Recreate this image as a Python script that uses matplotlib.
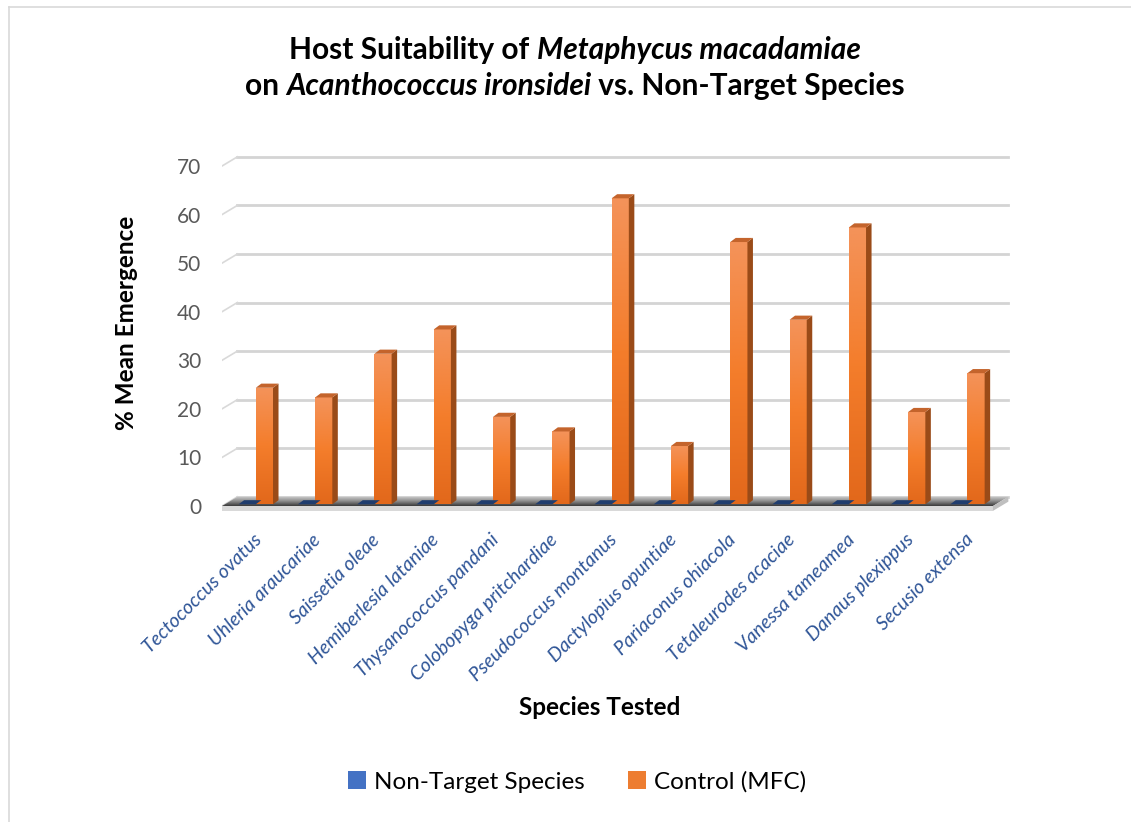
"""Host suitability of Metaphycus macadamiae: 3D-style clustered column chart."""

import matplotlib
matplotlib.use("Agg")
import matplotlib.pyplot as plt
import numpy as np
from matplotlib.patches import Polygon, Rectangle
from matplotlib.lines import Line2D

plt.rcParams["font.family"] = ["Lato", "DejaVu Sans"]

SPECIES = [
    "Tectococcus ovatus", "Uhleria araucariae", "Saissetia oleae",
    "Hemiberlesia lataniae", "Thysanococcus pandani", "Colobopyga pritchardiae",
    "Pseudococcus montanus", "Dactylopius opuntiae", "Pariaconus ohiacola",
    "Tetaleurodes acaciae", "Vanessa tameamea", "Danaus plexippus", "Secusio extensa",
]
NON_TARGET = [0, 0, 0, 0, 0, 0, 0, 0, 0, 0, 0, 0, 0]
CONTROL = [24, 22, 31, 36, 18, 15, 63, 12, 54, 38, 57, 19, 27]
Y_TICKS = [0, 10, 20, 30, 40, 50, 60, 70]

W, H = 1131, 822
DX, DY = 0.26, 1.9          # depth of the back wall (category / value units)
BDX, BDY = 0.093, 0.85      # depth of each bar
BASE = 0.35                 # bar front base height above front floor edge
BAR_W = 0.29

fig = plt.figure(figsize=(W / 100, H / 100), dpi=100)
ax = fig.add_axes([222 / W, 1 - 513.3 / H, 791.7 / W, 366.7 / H])
ax.set_xlim(-0.5, 12.85)
ax.set_ylim(-1.5, 74)
for s in ax.spines.values():
    s.set_visible(False)

n = len(SPECIES)
x = np.arange(n)

# back wall gridlines with their diagonal lead-ins
for v in Y_TICKS:
    ax.plot([-0.5 + DX, n - 0.5 + DX], [v + DY, v + DY], color="#d4d4d4", lw=2.0, zorder=1)
    ax.plot([-0.5, -0.5 + DX], [v, v + DY], color="#d9d9d9", lw=1.2, zorder=1)

# floor: top surface with gradient and a light front edge
floor_top = Polygon([(-0.5, 0), (n - 0.5, 0), (n - 0.5 + DX, DY), (-0.5 + DX, DY)],
                    closed=True, facecolor="none", edgecolor="none", zorder=2)
ax.add_patch(floor_top)
grad = np.linspace(0, 1, 64).reshape(-1, 1)
im = ax.imshow(grad, extent=(-0.5, n - 0.5 + DX, 0, DY), origin="lower",
               cmap=matplotlib.colors.LinearSegmentedColormap.from_list("fl", ["#3a3a3a", "#8c8c8c", "#d0d0d0"]),
               aspect="auto", zorder=2)
im.set_clip_path(floor_top)
ax.add_patch(Polygon([(-0.5, 0), (n - 0.5, 0), (n - 0.5, -1.0), (-0.5, -1.0)],
                     closed=True, facecolor="#d9d9d9", edgecolor="none", zorder=2))
ax.add_patch(Polygon([(n - 0.5, 0), (n - 0.5 + DX, DY), (n - 0.5 + DX, DY - 1.0), (n - 0.5, -1.0)],
                     closed=True, facecolor="#bfbfbf", edgecolor="none", zorder=2))

orange_cmap = matplotlib.colors.LinearSegmentedColormap.from_list(
    "or", ["#e2681b", "#f47d2b", "#f4935a"])


def draw_bar(xl, v, front, side, top, gradient=None):
    xr = xl + BAR_W
    if v > 0:
        face = Rectangle((xl, BASE), BAR_W, v, facecolor=front, edgecolor="none", zorder=4)
        ax.add_patch(face)
        if gradient is not None:
            g = ax.imshow(np.linspace(0, 1, 128).reshape(-1, 1), extent=(xl, xr, BASE, BASE + v),
                          origin="lower", cmap=gradient, aspect="auto", zorder=4)
            g.set_clip_path(face)
        ax.add_patch(Polygon([(xr, BASE), (xr + BDX, BASE + BDY), (xr + BDX, BASE + v + BDY), (xr, BASE + v)],
                             closed=True, facecolor=side, edgecolor="none", zorder=4))
    ax.add_patch(Polygon([(xl, BASE + v), (xr, BASE + v), (xr + BDX, BASE + v + BDY), (xl + BDX, BASE + v + BDY)],
                         closed=True, facecolor=top, edgecolor="none", zorder=5))


for i in range(n):
    draw_bar(x[i] - 0.22, NON_TARGET[i], "#3a64ad", "#25467f", "#203d6e")
    draw_bar(x[i] + 0.07, CONTROL[i], "#f07d2e", "#9a4b18", "#c4642c", orange_cmap)

ax.set_yticks(Y_TICKS)
ax.set_yticklabels([str(v) for v in Y_TICKS], fontsize=15, color="#595959")
ax.tick_params(axis="y", length=0, pad=15)

ax.set_xticks(x + 0.12)
ax.set_xticklabels(SPECIES, rotation=45, ha="right", va="center", rotation_mode="anchor",
                   fontsize=14, style="italic", color="#2f5597")
ax.tick_params(axis="x", length=0, pad=17)

fig.text(127 / W, 1 - 323 / H, "% Mean Emergence", rotation=90, ha="center", va="center",
         fontsize=17.5, weight="bold", color="black")
fig.text(600 / W, 1 - 707 / H, "Species Tested", ha="center", va="center",
         fontsize=17.5, weight="bold", color="black")

# title with italic species names
renderer = fig.canvas.get_renderer()
TITLE_LINES = [
    [("Host Suitability of ", "normal"), ("Metaphycus macadamiae", "italic")],
    [("on ", "normal"), ("Acanthococcus ironsidei", "italic"), (" vs. Non-Target Species", "normal")],
]
for line, ypx in zip(TITLE_LINES, [50, 86]):
    pieces = []
    total = 0
    for txt, st in line:
        t = fig.text(0, 1 - ypx / H, txt, fontsize=21.5, weight="bold", style=st,
                     ha="left", va="center", color="black")
        w = t.get_window_extent(renderer).width
        pieces.append((t, w))
        total += w
    xpos = 575 - total / 2
    for t, w in pieces:
        t.set_x(xpos / W)
        xpos += w

# legend
handles = [
    Rectangle((0, 0), 1, 1, facecolor="#4472c4", edgecolor="none"),
    Rectangle((0, 0), 1, 1, facecolor="#ed7d31", edgecolor="none"),
]
fig.legend(handles, ["Non-Target Species", "Control (MFC)"], loc="center",
           bbox_to_anchor=(577 / W, 1 - 782 / H), ncol=2, frameon=False, fontsize=17.5,
           handlelength=0.75, handleheight=0.75, handletextpad=0.3, columnspacing=1.8)

# chart border (left and top visible)
fig.add_artist(Line2D([9 / W, 9 / W], [0, 1 - 7 / H], color="#d9d9d9", lw=1.2))
fig.add_artist(Line2D([9 / W, 1], [1 - 7 / H, 1 - 7 / H], color="#d9d9d9", lw=1.2))

fig.savefig("out.png", dpi=100)
